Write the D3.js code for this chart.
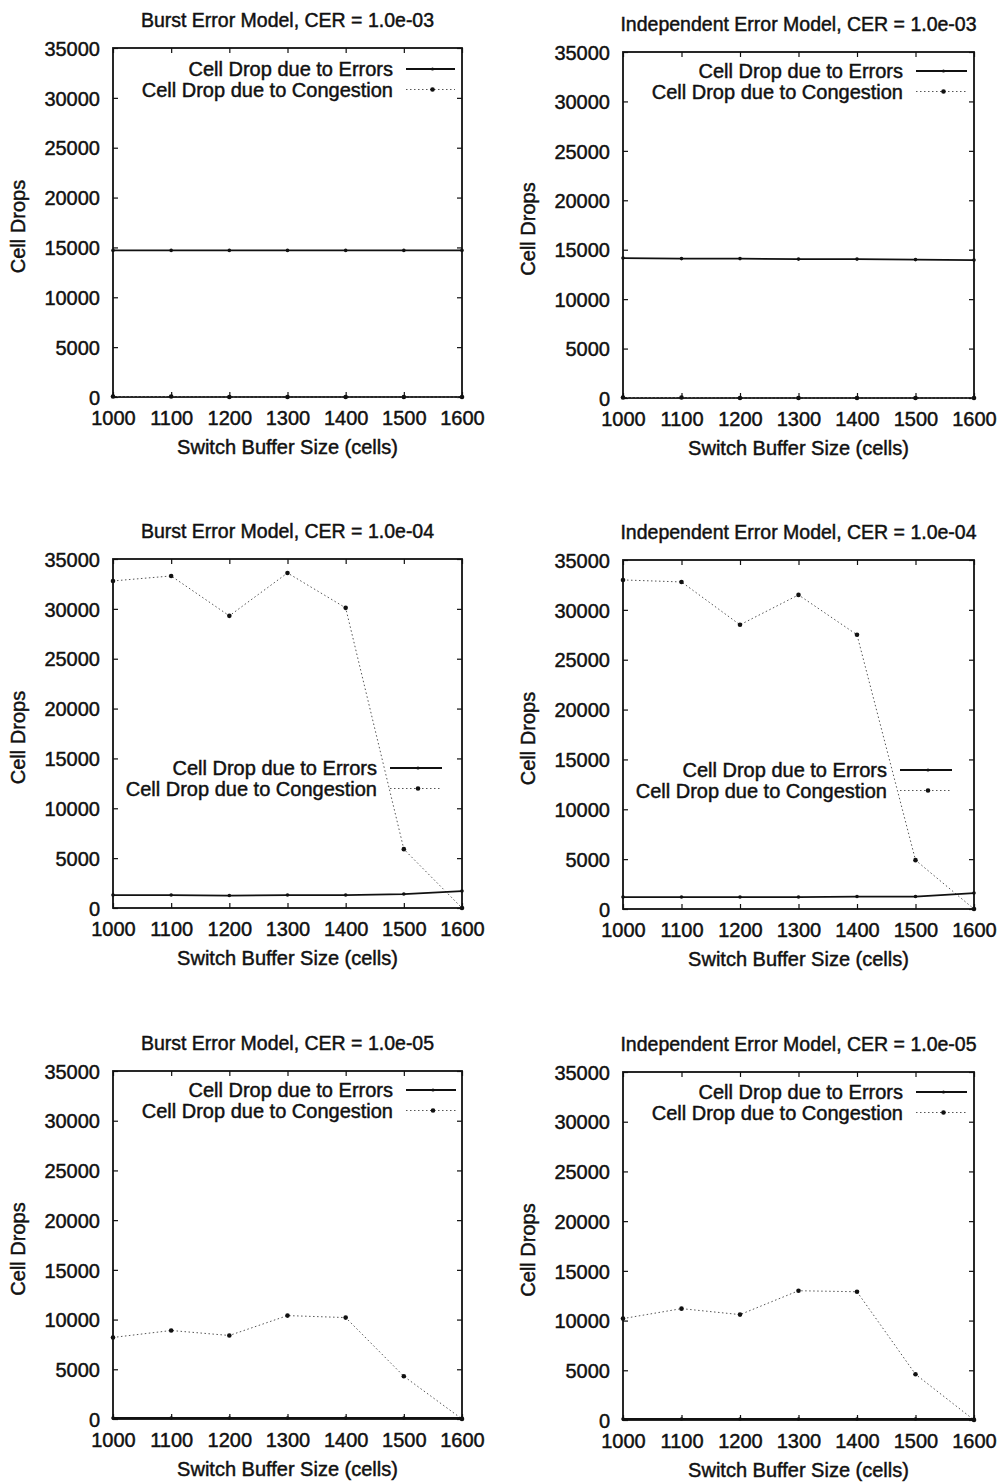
<!DOCTYPE html>
<html>
<head>
<meta charset="utf-8">
<script src="https://cdn.jsdelivr.net/npm/d3@7"></script>
<style>
  html, body { margin: 0; padding: 0; background: #fff; }
  svg text { font-family: "Liberation Sans", Arial, Helvetica, sans-serif; fill: #111; stroke: #111; stroke-width: 0.45px; }
</style>
</head>
<body>
<svg id="chart" width="1000" height="1484"></svg>
<script>
// Switch buffer sizes (cells) on the x axis
const bufferSizes = [1000, 1100, 1200, 1300, 1400, 1500, 1600];

// Panel titles
const panelTitles = [
  "Burst Error Model, CER = 1.0e-03",
  "Independent Error Model, CER = 1.0e-03",
  "Burst Error Model, CER = 1.0e-04",
  "Independent Error Model, CER = 1.0e-04",
  "Burst Error Model, CER = 1.0e-05",
  "Independent Error Model, CER = 1.0e-05"
];

// Cell drops due to errors, one row per panel
const errorDrops = [
  [14700, 14700, 14700, 14700, 14700, 14700, 14700],
  [14150, 14100, 14100, 14050, 14050, 14000, 13950],
  [1300, 1300, 1250, 1300, 1300, 1400, 1700],
  [1200, 1200, 1200, 1200, 1250, 1250, 1600],
  [100, 100, 100, 100, 100, 100, 100],
  [100, 100, 100, 100, 100, 100, 100]
];

// Cell drops due to congestion, one row per panel
const congestionDrops = [
  [50, 50, 0, 0, 0, 0, 0],
  [50, 50, 0, 0, 0, 0, 0],
  [32800, 33300, 29300, 33600, 30100, 5900, 0],
  [33000, 32800, 28500, 31500, 27500, 4900, 0],
  [8200, 8900, 8400, 10400, 10200, 4300, 0],
  [10200, 11200, 10600, 13000, 12900, 4600, 0]
];

const yTicks = [0, 5000, 10000, 15000, 20000, 25000, 30000, 35000];
const seriesNames = ["Cell Drop due to Errors", "Cell Drop due to Congestion"];
const xAxisTitle = "Switch Buffer Size (cells)";
const yAxisTitle = "Cell Drops";

// Plot frames (left, top, right, bottom) and legend anchor (text end x, first row y, sample width)
const frames = [
  { l: 113, t: 48,   r: 462, b: 397,  lx: 393, ly: 69,   sw: 49 },
  { l: 623, t: 52,   r: 974, b: 398,  lx: 903, ly: 71,   sw: 51 },
  { l: 113, t: 559,  r: 462, b: 908,  lx: 377, ly: 768,  sw: 52 },
  { l: 623, t: 560,  r: 974, b: 909,  lx: 887, ly: 770,  sw: 52 },
  { l: 113, t: 1071, r: 462, b: 1419, lx: 393, ly: 1090, sw: 50 },
  { l: 623, t: 1072, r: 974, b: 1420, lx: 903, ly: 1092, sw: 51 }
];

const FONT = 20;
const svg = d3.select("#chart");

frames.forEach((f, i) => {
  const x = d3.scaleLinear().domain([1000, 1600]).range([f.l, f.r]);
  const y = d3.scaleLinear().domain([0, 35000]).range([f.b, f.t]);
  const g = svg.append("g");

  // Title
  g.append("text")
    .attr("x", (f.l + f.r) / 2).attr("y", f.t - 21)
    .attr("text-anchor", "middle").attr("font-size", FONT - 0.5)
    .text(panelTitles[i]);

  // Axes with inward ticks, mirrored on the opposite sides
  const tickLen = 5;
  const left = g.append("g").attr("transform", `translate(${f.l},0)`)
    .call(d3.axisLeft(y).tickValues(yTicks).tickSize(-tickLen).tickPadding(13).tickFormat(d3.format("d")));
  const right = g.append("g").attr("transform", `translate(${f.r},0)`)
    .call(d3.axisRight(y).tickValues(yTicks).tickSize(-tickLen).tickFormat(""));
  const bottom = g.append("g").attr("transform", `translate(0,${f.b})`)
    .call(d3.axisBottom(x).tickValues(bufferSizes).tickSize(-tickLen).tickPadding(14).tickFormat(d3.format("d")));
  const top = g.append("g").attr("transform", `translate(0,${f.t})`)
    .call(d3.axisTop(x).tickValues(bufferSizes).tickSize(-tickLen).tickFormat(""));
  [left, right, bottom, top].forEach(a => {
    a.select(".domain").remove();
    a.selectAll(".tick line").attr("stroke", "#111").attr("stroke-width", 1.2);
    a.selectAll(".tick text").attr("font-size", FONT).attr("fill", "#111")
      .style("font-family", "'Liberation Sans', Arial, sans-serif");
  });
  left.selectAll(".tick text").attr("dy", "0.36em");
  bottom.selectAll(".tick text").attr("dy", "0.71em");

  // Frame
  g.append("rect")
    .attr("x", f.l).attr("y", f.t).attr("width", f.r - f.l).attr("height", f.b - f.t)
    .attr("fill", "none").attr("stroke", "#111").attr("stroke-width", 1.8);

  // Axis titles
  g.append("text")
    .attr("x", (f.l + f.r) / 2).attr("y", f.b + 57)
    .attr("text-anchor", "middle").attr("font-size", FONT)
    .text(xAxisTitle);
  g.append("text")
    .attr("transform", `translate(${f.l - 88},${(f.t + f.b) / 2 + 4}) rotate(-90)`)
    .attr("text-anchor", "middle").attr("font-size", FONT)
    .text(yAxisTitle);

  const line = d3.line().x((d, k) => x(bufferSizes[k])).y(d => y(d));

  // Congestion series: fine dotted grey line with dots
  g.append("path").datum(congestionDrops[i])
    .attr("d", line).attr("fill", "none")
    .attr("stroke", "#555").attr("stroke-width", 1).attr("stroke-dasharray", "1.5,2.5");
  g.selectAll(".cdot").data(congestionDrops[i]).enter().append("circle")
    .attr("cx", (d, k) => x(bufferSizes[k])).attr("cy", d => y(d))
    .attr("r", 2.3).attr("fill", "#111");

  // Errors series: solid black line with small dots
  g.append("path").datum(errorDrops[i])
    .attr("d", line).attr("fill", "none")
    .attr("stroke", "#111").attr("stroke-width", 1.8);
  g.selectAll(".edot").data(errorDrops[i]).enter().append("circle")
    .attr("cx", (d, k) => x(bufferSizes[k])).attr("cy", d => y(d))
    .attr("r", 1.8).attr("fill", "#111");

  // Legend
  seriesNames.forEach((name, k) => {
    const ly = f.ly + k * 20.5;
    g.append("text")
      .attr("x", f.lx).attr("y", ly).attr("dy", "0.35em")
      .attr("text-anchor", "end").attr("font-size", FONT)
      .text(name);
    const x0 = f.lx + 13, x1 = x0 + f.sw;
    g.append("line")
      .attr("x1", x0).attr("x2", x1).attr("y1", ly).attr("y2", ly)
      .attr("stroke", k === 0 ? "#111" : "#555")
      .attr("stroke-width", k === 0 ? 1.8 : 1)
      .attr("stroke-dasharray", k === 0 ? null : "1.5,2.5");
    g.append("circle")
      .attr("cx", (x0 + x1) / 2 + 2).attr("cy", ly)
      .attr("r", k === 0 ? 1.6 : 2.3).attr("fill", "#111");
  });
});
</script>
</body>
</html>
